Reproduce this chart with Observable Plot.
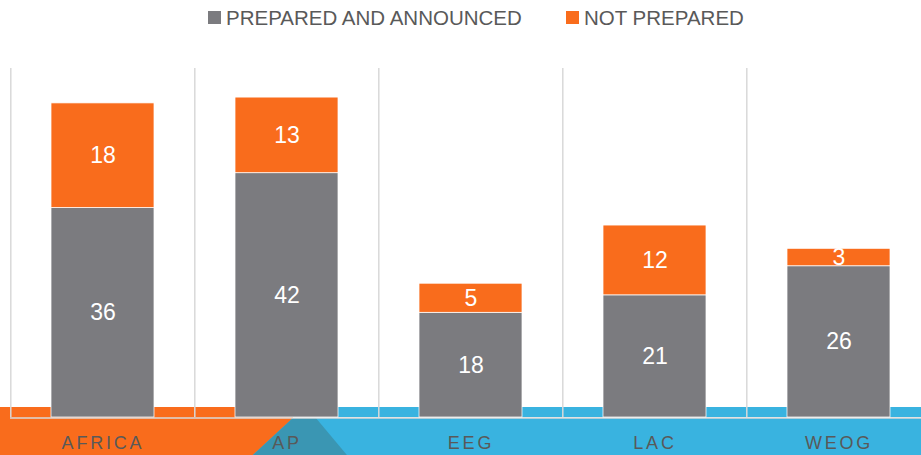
<!DOCTYPE html>
<html>
<head>
<meta charset="utf-8">
<script src="https://cdn.jsdelivr.net/npm/d3@7"></script>
<script src="https://cdn.jsdelivr.net/npm/@observablehq/plot@0.6"></script>
<style>
  html, body { margin: 0; padding: 0; background: #ffffff; }
  #wrap { position: relative; width: 921px; height: 455px; overflow: hidden; font-family: "Liberation Sans", Arial, sans-serif; }
  .leg { position: absolute; top: 8px; height: 20px; line-height: 20px; font-size: 20.5px; color: #595959; white-space: nowrap; }
  .leg .sw { position: absolute; left: 0; top: 3px; width: 13px; height: 13px; }
  .leg .lb { position: absolute; left: 18px; top: 0; }
  #chart svg { display: block; }
</style>
</head>
<body>
<div id="wrap">
  <div id="chart"></div>
  <div id="legend"></div>
</div>
<script>
const categories = ["AFRICA", "AP", "EEG", "LAC", "WEOG"];
const seriesNames = ["PREPARED AND ANNOUNCED", "NOT PREPARED"];
const seriesColors = ["#7b7b7f", "#f96c1c"];
const prepared = [36, 42, 18, 21, 26];
const notPrepared = [18, 13, 5, 12, 3];

const rows = [];
categories.forEach((c, i) => rows.push({cat: c, series: seriesNames[0], value: prepared[i]}));
categories.forEach((c, i) => rows.push({cat: c, series: seriesNames[1], value: notPrepared[i]}));

const W = 921, H = 455;
const xRange = [10, 932];
const step = (xRange[1] - xRange[0]) / categories.length;

const ORANGE = "#f96c1c", BLUE = "#39b3e0", TEAL = "#3a96b3";

function decoration(index, scales, values, dims) {
  const y0 = scales.y(0);
  const bw = typeof scales.x.bandwidth === "function" ? scales.x.bandwidth() : scales.x.bandwidth;
  const apC = scales.x(categories[1]) + bw / 2;
  const g = d3.create("svg:g");
  g.append("rect").attr("x", 0).attr("y", y0 - 10).attr("width", apC).attr("height", 10).attr("fill", ORANGE);
  g.append("rect").attr("x", apC).attr("y", y0 - 10).attr("width", dims.width - apC).attr("height", 10).attr("fill", BLUE);
  const top = y0 + 1;
  g.append("rect").attr("x", 0).attr("y", top).attr("width", dims.width).attr("height", dims.height - top).attr("fill", BLUE);
  g.append("path").attr("fill", ORANGE)
    .attr("d", `M0,${y0 - 0.5}L${apC + 6.4},${y0 - 0.5}L${apC + 6.4},${top}L${apC - 33.6},${dims.height}L0,${dims.height}Z`);
  g.append("path").attr("fill", TEAL)
    .attr("d", `M${apC + 6.4},${top}L${apC + 29.4},${top}L${apC + 60.4},${dims.height}L${apC - 33.6},${dims.height}Z`);
  return g.node();
}

const chart = Plot.plot({
  width: W,
  height: H,
  marginTop: 68,
  marginBottom: 38,
  marginLeft: 10,
  marginRight: 0,
  style: {fontFamily: "'Liberation Sans', Arial, sans-serif", background: "transparent", overflow: "visible"},
  x: {type: "band", domain: categories, range: xRange, paddingInner: 0.44, paddingOuter: 0.22, axis: null},
  y: {domain: [0, 60], axis: null},
  color: {domain: seriesNames, range: seriesColors},
  marks: [
    decoration,
    Plot.ruleX(categories, {x: d => d, dx: -step / 2, y1: 0, y2: 60, stroke: "#d9d9d9", strokeWidth: 1.5}),
    Plot.ruleY([0], {stroke: "#d9d9d9", strokeWidth: 1.5, dy: 0.5}),
    Plot.barY(rows, {x: "cat", y: "value", fill: "series", stroke: "#ffffff", strokeWidth: 0.75}),
    Plot.text(rows, Plot.stackY({x: "cat", y: "value", text: d => String(d.value), fill: "#ffffff", fontSize: 23})),
    Plot.text(categories, {x: d => d, frameAnchor: "bottom", lineAnchor: "middle", dy: 26, text: d => d, fill: "#595959", fontSize: 18})
  ]
});

document.getElementById("chart").appendChild(chart);
const textGroups = d3.select(chart).selectAll("g[aria-label='text']").nodes();
d3.select(textGroups[textGroups.length - 1]).selectAll("text").style("letter-spacing", "2.8px");

const legend = document.getElementById("legend");
const legLefts = [208, 566];
seriesNames.forEach((name, i) => {
  const item = document.createElement("div");
  item.className = "leg";
  item.style.left = legLefts[i] + "px";
  const sw = document.createElement("span");
  sw.className = "sw";
  sw.style.background = seriesColors[i];
  const lb = document.createElement("span");
  lb.className = "lb";
  lb.textContent = name;
  item.appendChild(sw);
  item.appendChild(lb);
  legend.appendChild(item);
});
</script>
</body>
</html>
